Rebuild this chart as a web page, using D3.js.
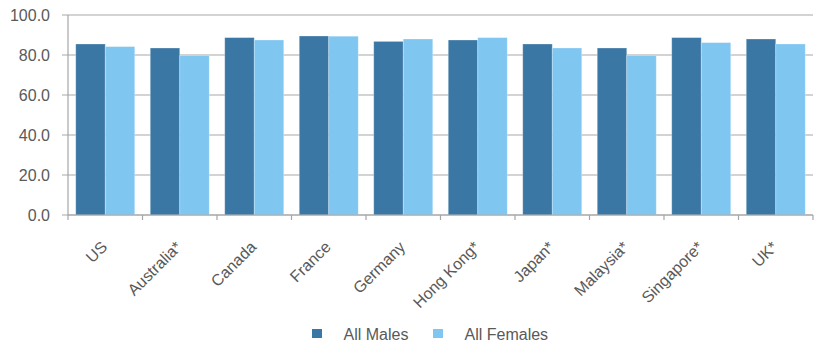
<!DOCTYPE html>
<html><head><meta charset="utf-8">
<script src="https://cdn.jsdelivr.net/npm/d3@7"></script>
<style>body{margin:0;background:#fff}svg{display:block}text{font-family:"Liberation Sans",Arial,sans-serif;fill:#595959}</style>
</head><body><svg id="c" width="814" height="345"></svg>
<script>
const categories = ["US","Australia*","Canada","France","Germany","Hong Kong*","Japan*","Malaysia*","Singapore*","UK*"];
const seriesNames = ["All Males","All Females"];
const males   = [85.5,83.5,88.7,89.5,86.8,87.5,85.5,83.5,88.7,88.0];
const females = [84.2,79.8,87.5,89.4,88.0,88.7,83.5,79.8,86.2,85.5];
const yTicks = [0,20,40,60,80,100];
const colors = ["#3A77A4","#7FC6F1"];

const svg = d3.select("#c");
const L = 68, R = 813, T = 15, B = 215;
const x = d3.scaleBand().domain(categories).range([L,R]).paddingInner(0.208).paddingOuter(0.104);
const xs = d3.scaleBand().domain(seriesNames).range([0,x.bandwidth()]);
const y = d3.scaleLinear().domain([0,100]).range([B,T]);

// gridlines + y ticks
const gy = svg.append("g");
gy.selectAll("line").data(yTicks).join("line")
  .attr("x1",L-6).attr("x2",R).attr("y1",d=>y(d)).attr("y2",d=>y(d))
  .attr("stroke","#A8A8A8").attr("stroke-width",1.2);
gy.selectAll("text").data(yTicks).join("text")
  .attr("x",50).attr("y",d=>y(d)).attr("dy","0.36em").attr("text-anchor","end")
  .attr("font-size",16).text(d=>d.toFixed(1));
svg.append("line").attr("x1",L).attr("x2",L).attr("y1",T).attr("y2",B)
  .attr("stroke","#A6A6A6").attr("stroke-width",1.2);

// bars
const data = categories.map((c,i)=>({c, v:[males[i],females[i]]}));
const g = svg.append("g");
data.forEach(d=>{
  d.v.forEach((v,j)=>{
    g.append("rect").attr("x",x(d.c)+xs(seriesNames[j])).attr("y",y(v))
      .attr("width",xs.bandwidth()).attr("height",y(0)-y(v))
      .attr("fill",colors[j]).attr("stroke","#ffffff").attr("stroke-opacity",0.35).attr("stroke-width",0.8);
  });
});

// x axis
svg.append("line").attr("x1",L).attr("x2",R).attr("y1",B).attr("y2",B)
  .attr("stroke","#A6A6A6").attr("stroke-width",1.2);
const bounds = categories.map(c=>x(c)-x.step()*x.paddingInner()/2).concat([R]);
svg.append("g").selectAll("line").data(bounds).join("line")
  .attr("x1",d=>d).attr("x2",d=>d).attr("y1",B).attr("y2",B+5)
  .attr("stroke","#A6A6A6").attr("stroke-width",1.2);
svg.append("g").selectAll("text").data(categories).join("text")
  .attr("transform",d=>`translate(${x(d)+x.bandwidth()/2+3},${248}) rotate(-45)`)
  .attr("text-anchor","end").attr("font-size",16).text(d=>d);

// legend
const leg = svg.append("g");
const lx = [312,433];
seriesNames.forEach((s,i)=>{
  leg.append("rect").attr("x",lx[i]).attr("y",329).attr("width",10).attr("height",9).attr("fill",colors[i]);
  leg.append("text").attr("x",lx[i]+31.5).attr("y",340).attr("font-size",16).text(s);
});
</script></body></html>
